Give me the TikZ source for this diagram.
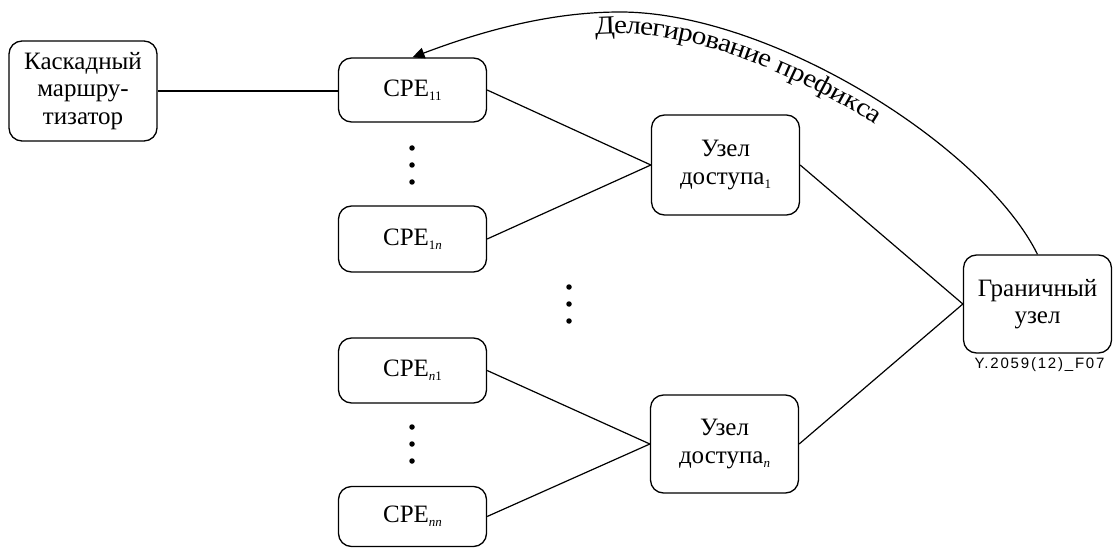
\documentclass[tikz,border=0pt]{standalone}
\usepackage{fontspec}
\setmainfont{Liberation Serif}
\newfontfamily\figsans{Liberation Sans}
\newfontfamily\arcfont[FakeStretch=1.12]{Liberation Serif}
\usetikzlibrary{arrows.meta,decorations.text,calc}

% small lowered index after a node name
\newcommand\lowidx[1]{\raisebox{-4pt}{\fontsize{13}{13}\selectfont #1}}

\begin{document}
\begin{tikzpicture}[x=1pt,y=-1pt,
  box/.style={draw, line width=1.3pt, rounded corners=13pt, minimum width=148pt,
              align=center, inner sep=0pt, font=\rmfamily\fontsize{25}{27.5}\selectfont},
  link/.style={line width=1.2pt},
  dotmark/.style={fill, circle, inner sep=0pt, minimum size=5.5pt}]
\useasboundingbox (0,0) rectangle (1113,548);

% equipment boxes
\node[box, minimum height=100pt] (kask) at (83,91)    {Каскадный\\маршру-\\тизатор};
\node[box, minimum height=64pt]  (c11)  at (412.5,90)  {CPE\lowidx{11}};
\node[box, minimum height=66pt]  (c1n)  at (412.5,239) {CPE\lowidx{1\textit{n}}};
\node[box, minimum height=65pt]  (cn1)  at (412.5,370.5) {CPE\lowidx{\textit{n}1}};
\node[box, minimum height=60pt]  (cnn)  at (412.5,516.5) {CPE\lowidx{\textit{nn}}};
\node[box, minimum height=100pt] (u1)   at (725.5,165) {Узел\\доступа\lowidx{1}};
\node[box, minimum height=98pt]  (un)   at (724.5,444) {Узел\\доступа\lowidx{\textit{n}}};
\node[box, minimum height=98pt]  (gr)   at (1037.5,304) {Граничный\\узел};

% ellipsis marks
\node[dotmark] (a1) at (412,148) {};
\node[dotmark] (a2) at (412,165) {};
\node[dotmark] (a3) at (412,182) {};
\node[dotmark] (b1) at (569,287) {};
\node[dotmark] (b2) at (569,304) {};
\node[dotmark] (b3) at (569,321) {};
\node[dotmark] (e1) at (412,427) {};
\node[dotmark] (e2) at (412,444) {};
\node[dotmark] (e3) at (412,461) {};

% connections
\draw[link] (kask.east) -- (kask.east -| c11.west);
\draw[link] (c11.east) -- (u1.west);
\draw[link] (c1n.east) -- (u1.west);
\draw[link] (cn1.east) -- (un.west);
\draw[link] (cnn.east) -- (un.west);
\draw[link] (u1.east) -- (gr.west);
\draw[link] (un.east) -- (gr.west);

% prefix delegation arc, with its top point
\coordinate (top) at (620,12);
\draw[link, -{Triangle[length=12pt,width=11pt]}]
  (gr.north) .. controls (983,145) and (770,12) .. (top)
             .. controls (560,12) and (495,26) .. (c11.north);
\path[decorate, decoration={text along path,
      text={|\arcfont\fontsize{26}{26}\selectfont|Делегирование префикса},
      text align={left indent=188pt}, raise=-22pt}]
  (c11.north) .. controls (495,26) and (560,12) .. (top)
              .. controls (770,12) and (983,145) .. (gr.north);

% figure reference
\node[font=\figsans\fontsize{15}{15}\selectfont\addfontfeature{LetterSpace=12},
      anchor=north east] (ref) at (1108,354) {Y.2059(12)\_F07};
\end{tikzpicture}
\end{document}
